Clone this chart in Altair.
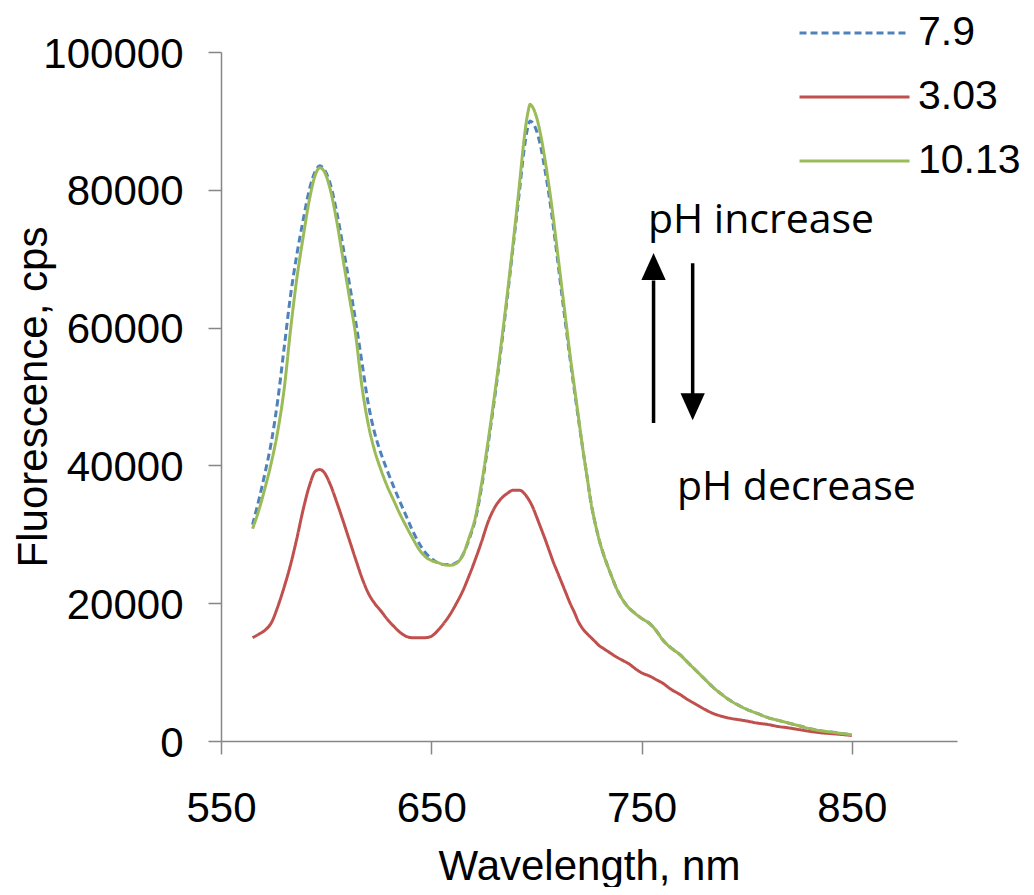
import altair as alt
import pandas as pd

# ---------------- data ----------------
wavelength = [565, 568, 571, 574, 577, 580, 583, 586, 589, 592, 595, 597, 599, 602, 605,
              608, 611, 614, 617, 620, 623, 626, 629, 632, 635, 638, 641, 644, 647, 650,
              653, 656, 659, 662, 665, 668, 671, 674, 677, 680, 683, 686, 689, 692, 694,
              696, 697, 698, 700, 702, 704, 706, 708, 710, 712, 714, 716, 718, 720, 722,
              724, 726, 728, 730, 732, 735, 738, 741, 744, 747, 750, 754, 757, 760, 764,
              768, 772, 776, 780, 784, 788, 792, 796, 800, 805, 810, 815, 820, 825, 830,
              835, 840, 845, 850]

ph_7_9 = [31400, 35000, 39000, 43500, 49500, 57000, 64500, 70500, 75500, 80000, 82800, 83500, 83000, 80800, 76800,
          71800, 66500, 61000, 55000, 49000, 44800, 41800, 39300, 37000, 34800, 32700, 30600, 28800, 27400, 26500,
          25900, 25600, 25600, 25900, 27000, 29300, 32200, 37000, 43000, 49500, 56500, 64000, 72000, 80000, 85500,
          89200, 90000, 89800, 88600, 86300, 83000, 79200, 74800, 70000, 65000, 60200, 55500, 51000, 46700, 42500,
          38500, 34500, 31500, 29000, 27000, 24500, 22200, 20500, 19300, 18500, 17800, 17000, 16000, 14700, 13500,
          12600, 11400, 10200, 9000, 7800, 6800, 5900, 5200, 4600, 4000, 3400, 3000, 2600, 2200, 1800,
          1500, 1300, 1100, 900]

ph_3_03 = [15000, 15500, 16100, 17200, 19500, 22300, 25500, 29300, 33500, 37000, 39200, 39400, 39000, 37200, 34700,
           32000, 29200, 26400, 23700, 21500, 20000, 18900, 17700, 16700, 15800, 15200, 15000, 15000, 15000, 15200,
           16000, 17100, 18400, 20000, 21800, 24000, 26400, 29000, 31800, 33800, 35100, 35900, 36400, 36400, 36000,
           35200, 34700, 34100, 32600, 31000, 29400, 27700, 26000, 24500, 23000, 21500, 20000, 18700, 17300, 16300,
           15600, 15000, 14400, 13800, 13400, 12800, 12200, 11700, 11200, 10500, 9900, 9400, 8900, 8400, 7500,
           6800, 6000, 5300, 4600, 4000, 3600, 3300, 3100, 2900, 2600, 2400, 2100, 1900, 1650, 1400,
           1200, 1080, 950, 800]

ph_10_13 = [30800, 33500, 36800, 40500, 45000, 51000, 59500, 67000, 73000, 78500, 82300, 83200, 82700, 80000, 75500,
            70000, 64500, 59000, 51500, 46000, 42200, 39400, 37000, 35000, 33000, 31200, 29500, 27900, 26800, 26200,
            25900, 25600, 25500, 25800, 27000, 29500, 32500, 37500, 43500, 50000, 57000, 64500, 72500, 81000, 87000,
            91300, 92400, 92100, 90600, 88000, 84500, 80500, 76000, 71000, 66000, 61000, 56000, 51500, 47000, 42500,
            38500, 34500, 31500, 29000, 27000, 24500, 22200, 20500, 19300, 18500, 17800, 17000, 16000, 14700, 13500,
            12600, 11400, 10200, 9000, 7800, 6800, 5900, 5200, 4600, 4000, 3400, 3000, 2600, 2200, 1800,
            1500, 1300, 1100, 900]

series_names = ["7.9", "3.03", "10.13"]
series_colors = ["#4F81BD", "#C0504D", "#9BBB59"]
series_dash = [[7, 4], [1, 0], [1, 0]]

x_ticks = [550, 650, 750, 850]
y_ticks = [0, 20000, 40000, 60000, 80000, 100000]

ann_text = ["pH increase", "pH decrease"]
ann_x = [753.0, 766.8]
ann_y = [73740, 34960]

arrow_x = [755.7, 774.3]
arrow_tail = [46140, 69340]
arrow_base = [66840, 50210]
arrow_head = [68850, 48510]

# ---------------- tables ----------------
rows = []
for name, vals in zip(series_names, [ph_7_9, ph_3_03, ph_10_13]):
    for w, v in zip(wavelength, vals):
        rows.append({"wl": w, "fl": v, "pH": name})
df = pd.DataFrame(rows)

ann_df = pd.DataFrame({"wl": ann_x, "fl": ann_y, "label": ann_text})
shaft_df = pd.DataFrame({"wl": arrow_x, "fl": arrow_tail, "fl2": arrow_base})
up_df = pd.DataFrame({"wl": [arrow_x[0]], "fl": [arrow_head[0]]})
down_df = pd.DataFrame({"wl": [arrow_x[1]], "fl": [arrow_head[1]]})

FONT = "Liberation Sans"
GRAY = "#868686"

x_scale = alt.Scale(domain=[550, 900], nice=False, zero=False)
y_scale = alt.Scale(domain=[0, 100000], nice=False)

x_axis = alt.Axis(title="Wavelength, nm", values=x_ticks, grid=False, tickSize=13,
                  tickColor=GRAY, tickWidth=1.5, domainColor=GRAY, domainWidth=1.5,
                  labelFont=FONT, labelFontSize=42, labelColor="black", labelPadding=34,
                  labelFlush=False, labelOverlap=False,
                  titleFont=FONT, titleFontSize=42, titleFontWeight="normal", titleColor="black",
                  titleX=368, titleY=138, titleBaseline="alphabetic", titleAlign="center")
y_axis = alt.Axis(title="Fluorescence, cps", values=y_ticks, format="d", grid=False, tickSize=13,
                  tickColor=GRAY, tickWidth=1.5, domainColor=GRAY, domainWidth=1.5,
                  labelFont=FONT, labelFontSize=42, labelColor="black", labelPadding=25,
                  labelFlush=False, labelOverlap=False, labelOffset=2,
                  titleFont=FONT, titleFontSize=42, titleFontWeight="normal", titleColor="black",
                  titleAngle=270, titleX=-175, titleY=344.5, titleBaseline="alphabetic",
                  titleAlign="center")

X = alt.X("wl:Q", scale=x_scale, axis=x_axis)
Y = alt.Y("fl:Q", scale=y_scale, axis=y_axis)

legend = alt.Legend(orient="none", legendX=577, legendY=-41, symbolType="stroke",
                    symbolSize=12100, symbolStrokeWidth=3, labelFont=FONT, labelFontSize=41,
                    labelColor="black", labelOffset=7, labelLimit=0, clipHeight=44,
                    rowPadding=20, padding=0)

color = alt.Color("pH:N", title=None, sort=series_names,
                  scale=alt.Scale(domain=series_names, range=series_colors), legend=legend)
dash = alt.StrokeDash("pH:N", title=None, sort=series_names,
                      scale=alt.Scale(domain=series_names, range=series_dash), legend=legend)

layers = []
for name in series_names:
    layers.append(
        alt.Chart(df).transform_filter(alt.datum.pH == name)
        .mark_line(strokeWidth=3, interpolate="monotone")
        .encode(x=X, y=Y, color=color, strokeDash=dash)
    )

text = alt.Chart(ann_df).mark_text(align="left", baseline="alphabetic", font="Open Sans",
                                   fontSize=41, color="black").encode(x=X, y=Y, text="label:N")
shafts = alt.Chart(shaft_df).mark_rule(strokeWidth=3.5, color="black").encode(x=X, y=Y, y2="fl2:Q")
up_head = alt.Chart(up_df).mark_point(shape="M0,-1L0.9,1L-0.9,1Z", size=729, filled=True,
                                      color="black", opacity=1, strokeWidth=0).encode(x=X, y=Y)
down_head = alt.Chart(down_df).mark_point(shape="M0,1L0.9,-1L-0.9,-1Z", size=729, filled=True,
                                          color="black", opacity=1, strokeWidth=0).encode(x=X, y=Y)

chart = alt.layer(*layers, text, shafts, up_head, down_head).properties(
    width=736, height=689,
    autosize=alt.AutoSizeParams(type="none"),
    padding={"left": 213, "top": 44, "right": 69, "bottom": 146},
    background="white",
).configure_view(stroke=None)

chart.save("out.html", embed_options={"renderer": "svg", "actions": False})
